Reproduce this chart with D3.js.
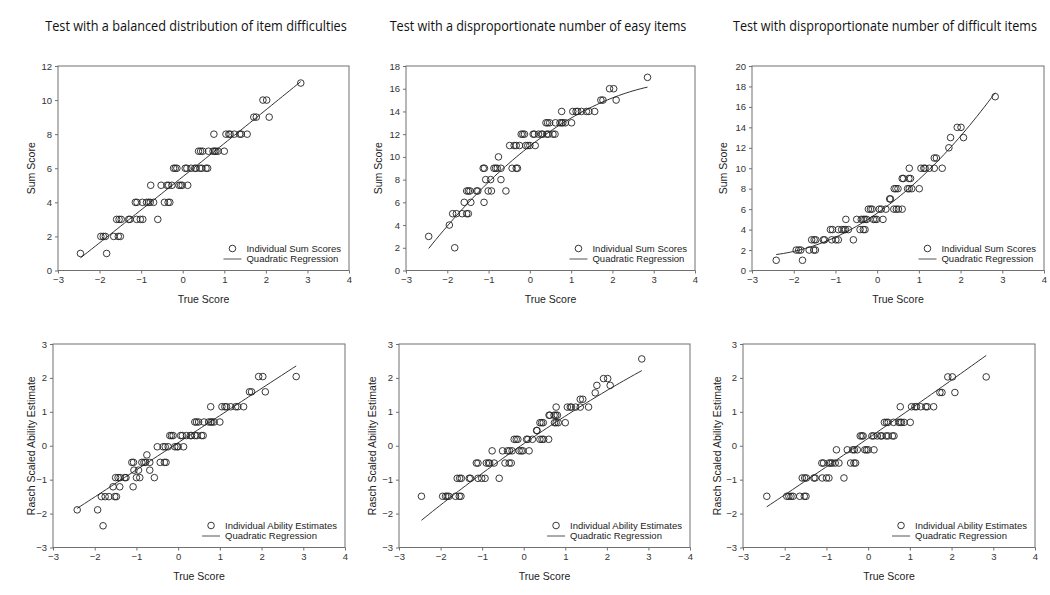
<!DOCTYPE html>
<html><head><meta charset="utf-8">
<script src="https://cdn.jsdelivr.net/npm/d3@7"></script>
<style>body{margin:0;background:#fff}svg{display:block}</style>
</head><body>
<svg id="chart" width="1050" height="595"></svg>
<script>
// ---------- DATA ----------
const columnTitles = [
  "Test with a balanced distribution of item difficulties",
  "Test with a disproportionate number of easy items",
  "Test with disproportionate number of difficult items"
];
const trueScoreTicks = [-3, -2, -1, 0, 1, 2, 3, 4];
const sumTicksBalanced = [0, 2, 4, 6, 8, 10, 12];
const sumTicksEasy = [0, 2, 4, 6, 8, 10, 12, 14, 16, 18];
const sumTicksDifficult = [0, 2, 4, 6, 8, 10, 12, 14, 16, 18, 20];
const raschTicks = [-3, -2, -1, 0, 1, 2, 3];

// rows: [y value, [true scores]]
const balancedSumRows = [
  [11, [2.84]],
  [10, [1.93, 2.02]],
  [9, [1.71, 1.77, 2.08]],
  [8, [0.75, 1.04, 1.11, 1.14, 1.24, 1.37, 1.41, 1.55]],
  [7, [0.38, 0.43, 0.48, 0.62, 0.73, 0.77, 0.80, 0.85, 1.00]],
  [6, [-0.22, -0.18, -0.14, 0.06, 0.10, 0.20, 0.29, 0.32, 0.41, 0.46, 0.56, 0.60]],
  [5, [-0.77, -0.52, -0.38, -0.34, -0.26, -0.09, -0.05, -0.01, 0.12]],
  [4, [-1.14, -1.10, -0.97, -0.87, -0.82, -0.78, -0.70, -0.44, -0.35, -0.31]],
  [3, [-1.59, -1.53, -1.48, -1.30, -1.27, -1.11, -1.02, -0.96, -0.60]],
  [2, [-1.97, -1.91, -1.86, -1.66, -1.55, -1.50]],
  [1, [-2.46, -1.83]]
];
const easySumRows = [
  [17, [2.85]],
  [16, [1.93, 2.03]],
  [15, [1.72, 1.77, 2.09]],
  [14, [0.77, 1.04, 1.12, 1.16, 1.25, 1.37, 1.43, 1.57]],
  [13, [0.39, 0.43, 0.48, 0.62, 0.73, 0.77, 0.80, 0.86, 1.01]],
  [12, [-0.21, -0.17, -0.13, 0.08, 0.11, 0.21, 0.28, 0.31, 0.41, 0.45, 0.56, 0.61]],
  [11, [-0.49, -0.38, -0.33, -0.25, -0.10, -0.05, 0.00, 0.13]],
  [10, [-0.76]],
  [9, [-1.13, -1.10, -0.87, -0.83, -0.79, -0.70, -0.43, -0.33, -0.30]],
  [8, [-1.07, -0.95, -0.70]],
  [7, [-1.53, -1.49, -1.45, -1.29, -1.26, -1.01, -0.93, -0.58]],
  [6, [-1.59, -1.43, -1.11]],
  [5, [-1.87, -1.78, -1.64, -1.53, -1.49]],
  [4, [-1.95]],
  [3, [-2.45]],
  [2, [-1.82]]
];
const difficultSumRows = [
  [17, [2.83]],
  [14, [1.92, 2.01]],
  [13, [1.76, 2.07]],
  [12, [1.72]],
  [11, [1.37, 1.42]],
  [10, [0.77, 1.05, 1.12, 1.15, 1.25, 1.37, 1.56]],
  [9, [0.60, 0.63, 0.76, 0.80]],
  [8, [0.41, 0.45, 0.50, 0.73, 0.77, 0.83, 1.01]],
  [7, [0.30, 0.32]],
  [6, [-0.21, -0.16, -0.12, 0.05, 0.10, 0.21, 0.40, 0.46, 0.51, 0.60]],
  [5, [-0.75, -0.49, -0.38, -0.33, -0.29, -0.25, -0.09, -0.05, -0.01, 0.14]],
  [4, [-1.12, -1.07, -0.93, -0.85, -0.80, -0.76, -0.69, -0.41, -0.33, -0.29]],
  [3, [-1.57, -1.51, -1.47, -1.29, -1.26, -1.09, -0.99, -0.93, -0.57]],
  [2, [-1.94, -1.88, -1.83, -1.63, -1.52, -1.48]],
  [1, [-2.42, -1.79]]
];
const balancedRaschRows = [
  [2.04, [1.93, 2.03, 2.83]],
  [1.59, [1.71, 1.76, 2.09]],
  [1.15, [0.78, 1.05, 1.12, 1.16, 1.26, 1.38, 1.43, 1.57]],
  [0.70, [0.40, 0.44, 0.49, 0.62, 0.73, 0.78, 0.81, 0.86, 1.00]],
  [0.30, [-0.20, -0.16, -0.12, 0.06, 0.10, 0.20, 0.29, 0.32, 0.40, 0.45, 0.56, 0.60]],
  [-0.03, [-0.50, -0.36, -0.31, -0.24, -0.08, -0.03, 0.00, 0.13]],
  [-0.27, [-0.75]],
  [-0.49, [-1.11, -1.07, -0.87, -0.82, -0.78, -0.68, -0.43, -0.33, -0.29]],
  [-0.72, [-1.06, -0.95, -0.68]],
  [-0.94, [-1.50, -1.44, -1.39, -1.28, -1.25, -1.00, -0.92, -0.57]],
  [-1.21, [-1.56, -1.40, -1.08]],
  [-1.50, [-1.84, -1.75, -1.66, -1.52, -1.48]],
  [-1.89, [-2.42, -1.93]],
  [-2.36, [-1.80]]
];
const easyRaschRows = [
  [2.56, [2.84]],
  [1.98, [1.92, 2.02]],
  [1.78, [1.76, 2.08]],
  [1.56, [1.72]],
  [1.37, [1.36, 1.42]],
  [1.14, [0.78, 1.05, 1.12, 1.15, 1.25, 1.36, 1.56]],
  [0.90, [0.61, 0.63, 0.73, 0.77, 0.81]],
  [0.68, [0.39, 0.43, 0.47, 0.74, 0.78, 0.83, 1.00]],
  [0.45, [0.31, 0.32]],
  [0.19, [-0.23, -0.18, -0.14, 0.07, 0.10, 0.21, 0.39, 0.44, 0.48, 0.60]],
  [-0.15, [-0.76, -0.51, -0.39, -0.34, -0.28, -0.11, -0.06, -0.02, 0.13]],
  [-0.51, [-1.14, -1.10, -0.90, -0.85, -0.82, -0.71, -0.45, -0.35, -0.30]],
  [-0.96, [-1.60, -1.54, -1.50, -1.31, -1.28, -1.10, -1.01, -0.93, -0.59]],
  [-1.49, [-2.46, -1.95, -1.88, -1.84, -1.80, -1.64, -1.55, -1.51]]
];
const difficultRaschRows = [
  [2.03, [1.91, 2.02, 2.83]],
  [1.57, [1.72, 1.77, 2.08]],
  [1.15, [0.77, 1.04, 1.12, 1.16, 1.26, 1.38, 1.42, 1.57]],
  [0.69, [0.39, 0.44, 0.48, 0.61, 0.73, 0.77, 0.80, 0.86, 1.01]],
  [0.29, [-0.19, -0.15, -0.12, 0.09, 0.13, 0.22, 0.30, 0.33, 0.43, 0.48, 0.58, 0.62]],
  [-0.12, [-0.76, -0.50, -0.37, -0.33, -0.26, -0.08, -0.04, 0.00, 0.14]],
  [-0.51, [-1.11, -1.07, -0.94, -0.90, -0.86, -0.79, -0.70, -0.42, -0.34, -0.30]],
  [-0.95, [-1.58, -1.52, -1.48, -1.30, -1.27, -1.10, -1.00, -0.94, -0.58]],
  [-1.49, [-2.43, -1.95, -1.90, -1.85, -1.80, -1.64, -1.53, -1.49]]
];

// quadratic regression curves: [intercept, linear, quadratic]
const fitBalancedSum = [5.5, 1.95, 0.006];
const fitEasySum = [10.95, 2.82, -0.35];
const fitDifficultSum = [5.6, 2.82, 0.476];
const fitBalancedRasch = [0.09, 0.80, 0.0];
const fitEasyRasch = [0.06, 0.844, -0.03];
const fitDifficultRasch = [0.22, 0.846, 0.006];

// ---------- LAYOUT ----------
const FONT = "'Liberation Sans Narrow','Arial Narrow','Liberation Sans',Arial,sans-serif";
const panels = [
  {rows: balancedSumRows, fit: fitBalancedSum, ticks: sumTicksBalanced, x0: 58, x1: 349, yT: 66, yB: 270.5, yLabel: "Sum Score", yLabelX: 31, legend: "Individual Sum Scores"},
  {rows: easySumRows, fit: fitEasySum, ticks: sumTicksEasy, x0: 406, x1: 695, yT: 66, yB: 270.5, yLabel: "Sum Score", yLabelX: 378, legend: "Individual Sum Scores"},
  {rows: difficultSumRows, fit: fitDifficultSum, ticks: sumTicksDifficult, x0: 752, x1: 1044, yT: 66, yB: 270.5, yLabel: "Sum Score", yLabelX: 723, legend: "Individual Sum Scores"},
  {rows: balancedRaschRows, fit: fitBalancedRasch, ticks: raschTicks, x0: 53, x1: 345, yT: 344, yB: 547.5, yLabel: "Rasch Scaled Ability Estimate", yLabelX: 31, legend: "Individual Ability Estimates"},
  {rows: easyRaschRows, fit: fitEasyRasch, ticks: raschTicks, x0: 399, x1: 690, yT: 344, yB: 547.5, yLabel: "Rasch Scaled Ability Estimate", yLabelX: 372, legend: "Individual Ability Estimates"},
  {rows: difficultRaschRows, fit: fitDifficultRasch, ticks: raschTicks, x0: 743, x1: 1035, yT: 344, yB: 547.5, yLabel: "Rasch Scaled Ability Estimate", yLabelX: 717, legend: "Individual Ability Estimates"}
];

const svg = d3.select("#chart");

// column titles (horizontally condensed like the original)
const titleX = [196, 538, 885];
const titleW = [302, 297, 304];
columnTitles.forEach((t, i) => {
  const tt = svg.append("text")
    .attr("text-anchor", "middle")
    .attr("font-family", "'Open Sans','Noto Sans',sans-serif")
    .attr("font-size", 14.5)
    .attr("fill", "#111")
    .text(t);
  const nat = tt.node().getComputedTextLength();
  tt.attr("transform", `translate(${titleX[i]},31) scale(${titleW[i] / nat},1)`);
});

panels.forEach(p => {
  const pts = [];
  p.rows.forEach(([yv, xs]) => xs.forEach(xv => pts.push([xv, yv])));
  const x = d3.scaleLinear().domain([-3, 4]).range([p.x0, p.x1]);
  const y = d3.scaleLinear().domain(d3.extent(p.ticks)).range([p.yB, p.yT]);
  const g = svg.append("g");

  // frame
  g.append("rect").attr("x", p.x0).attr("y", p.yT)
    .attr("width", p.x1 - p.x0).attr("height", p.yB - p.yT)
    .attr("fill", "none").attr("stroke", "#707070").attr("stroke-width", 1);

  // axes
  const ax = g.append("g").attr("transform", `translate(0,${p.yB})`)
    .call(d3.axisBottom(x).tickValues(trueScoreTicks).tickSize(3).tickPadding(3).tickFormat(d3.format("d")));
  const ay = g.append("g").attr("transform", `translate(${p.x0},0)`)
    .call(d3.axisLeft(y).tickValues(p.ticks).tickSize(3).tickPadding(3).tickFormat(d3.format("d")));
  [ax, ay].forEach(a => {
    a.select(".domain").remove();
    a.selectAll(".tick line").attr("stroke", "#707070");
    a.selectAll(".tick text").attr("font-family", FONT).attr("font-size", 9.5).attr("fill", "#333");
  });

  // axis titles
  g.append("text").attr("x", (p.x0 + p.x1) / 2).attr("y", p.yB + 32)
    .attr("text-anchor", "middle").attr("font-family", FONT).attr("font-size", 10.5).attr("fill", "#222")
    .text("True Score");
  g.append("text").attr("transform", `translate(${p.yLabelX},${(p.yT + p.yB) / 2}) rotate(-90)`)
    .attr("text-anchor", "middle").attr("dy", "0.35em").attr("font-family", FONT).attr("font-size", 10.5).attr("fill", "#222")
    .text(p.yLabel);

  // regression curve over the range of the data
  const c = p.fit;
  const [xmin, xmax] = d3.extent(pts, d => d[0]);
  const lineX = d3.range(0, 61).map(i => xmin + (xmax - xmin) * i / 60);
  g.append("path")
    .attr("d", d3.line().x(d => x(d)).y(d => y(c[0] + c[1] * d + c[2] * d * d))(lineX))
    .attr("fill", "none").attr("stroke", "#333").attr("stroke-width", 1);

  // points
  g.append("g").selectAll("circle").data(pts).join("circle")
    .attr("cx", d => x(d[0])).attr("cy", d => y(d[1])).attr("r", 3.3)
    .attr("fill", "none").attr("stroke", "#222").attr("stroke-width", 0.9);

  // legend
  const lg = g.append("g");
  const t1 = lg.append("text").attr("y", p.yB - 22).attr("dy", "0.35em")
    .attr("font-family", FONT).attr("font-size", 9.5).attr("fill", "#222").text(p.legend);
  const t2 = lg.append("text").attr("y", p.yB - 11.5).attr("dy", "0.35em")
    .attr("font-family", FONT).attr("font-size", 9.5).attr("fill", "#222").text("Quadratic Regression");
  const w = Math.max(t1.node().getComputedTextLength(), t2.node().getComputedTextLength());
  const tx = p.x1 - 8 - w;
  t1.attr("x", tx); t2.attr("x", tx);
  lg.append("circle").attr("cx", tx - 14).attr("cy", p.yB - 22).attr("r", 3.3)
    .attr("fill", "none").attr("stroke", "#222").attr("stroke-width", 0.9);
  lg.append("line").attr("x1", tx - 23).attr("x2", tx - 5)
    .attr("y1", p.yB - 11.5).attr("y2", p.yB - 11.5).attr("stroke", "#555").attr("stroke-width", 1);
});
</script>
</body></html>
